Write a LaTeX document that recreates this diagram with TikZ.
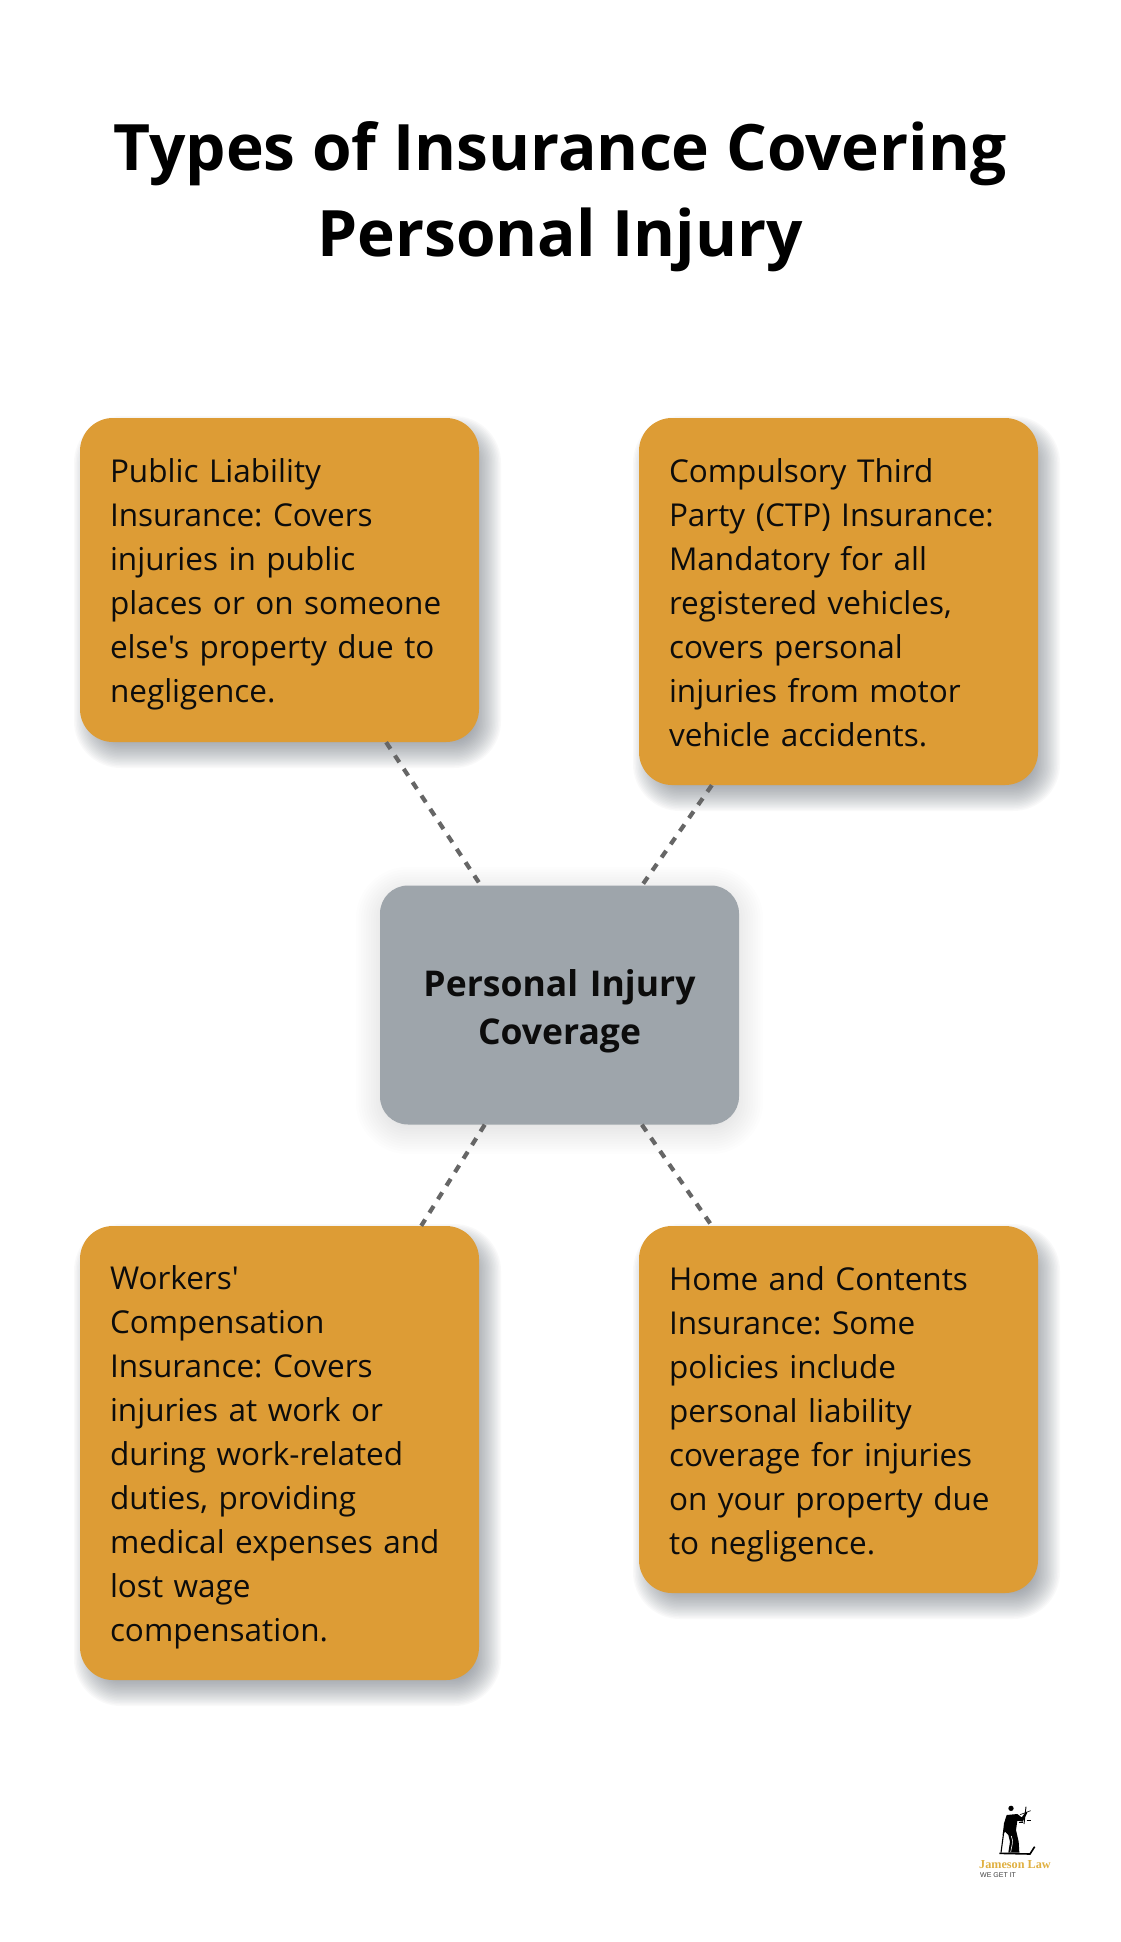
\documentclass[tikz,border=0pt]{standalone}
\usepackage{fontspec}
\setmainfont{Open Sans}[Ligatures=TeXOff]
\newfontfamily\logoserif{Liberation Serif}
\newfontfamily\logosans{Liberation Sans}
\definecolor{gold}{HTML}{DD9C35}
\definecolor{slate}{HTML}{9EA5AB}
\definecolor{inkc}{HTML}{0C0C0C}
\definecolor{dashc}{HTML}{666666}
\definecolor{shadowc}{HTML}{5E6670}
\definecolor{logogold}{HTML}{E0B040}
\frenchspacing
\newcommand{\firstline}{\rule{0pt}{39pt}}
\tikzset{
  card/.style={draw=none,fill=gold,rounded corners=33pt,text=inkc,
    minimum width=399pt,text width=339pt,inner xsep=30pt,inner ysep=0pt,align=left,
    font=\fontsize{31.5}{44}\selectfont},
  hub/.style={draw=none,fill=slate,rounded corners=28pt,text=inkc,
    minimum width=360pt,minimum height=239pt,text width=320pt,inner sep=0pt,align=center,
    font=\bfseries\fontsize{35.5}{48}\selectfont},
  link/.style={draw=dashc,line width=4.2pt,dash pattern=on 8pt off 8pt},
  titletext/.style={align=center,text=black,inner sep=0pt,
    font=\bfseries\fontsize{64}{86}\selectfont}
}
% soft shadow: x1 y1 x2 y2 radius dx dy opacity spread
\newcommand{\softshade}[9]{%
  \foreach \k in {0,...,19}{%
    \pgfmathsetmacro{\gr}{#9*(1-\k/9.5)}%
    \fill[shadowc,fill opacity=#8,rounded corners=#5pt+\gr pt]
      (#1-\gr+#6,#2-\gr+#7) rectangle (#3+\gr+#6,#4+\gr+#7);
  }%
}
\begin{document}
\begin{tikzpicture}[x=1pt,y=-1pt]
\useasboundingbox (0,0) rectangle (1120,1942);
\fill[white] (0,0) rectangle (1120,1942);

\softshade{80}{418}{479}{742}{33}{8}{12}{0.034}{14}
\softshade{639}{418}{1038}{785}{33}{8}{12}{0.034}{14}
\softshade{80}{1226}{479}{1680}{33}{8}{12}{0.034}{14}
\softshade{639}{1226}{1038}{1593}{33}{8}{12}{0.034}{14}
\softshade{380}{886}{739}{1125}{28}{0}{5}{0.01}{24}

\node[titletext] (title) at (560,196.5) {Types of Insurance Covering\\Personal Injury};

\node[card,minimum height=324pt] (pub) at (279.5,580) {\firstline Public Liability\\Insurance: Covers\\injuries in public\\places or on someone\\else's property due to\\negligence.\strut};
\node[card,minimum height=367pt] (ctp) at (838.5,601.5) {\firstline Compulsory Third\\Party (CTP) Insurance:\\Mandatory for all\\registered vehicles,\\covers personal\\injuries from motor\\vehicle accidents.\strut};
\node[card,minimum height=454pt] (work) at (279.5,1453) {\firstline Workers'\\Compensation\\Insurance: Covers\\injuries at work or\\during work-related\\duties, providing\\medical expenses and\\lost wage\\compensation.\strut};
\node[card,minimum height=367pt] (home) at (838.5,1409.5) {\firstline Home and Contents\\Insurance: Some\\policies include\\personal liability\\coverage for injuries\\on your property due\\to negligence.\strut};
\node[hub,minimum width=359pt] (core) at (559.5,1005) {\rule{0pt}{39pt}Personal Injury\\Coverage};

\draw[link] (pub) -- (core);
\draw[link] (ctp) -- (core);
\draw[link] (core) -- (work);
\draw[link] (core) -- (home);

% logo, drawn in the coordinates of the 3x crop
\begin{scope}[shift={(940,1780)},x=0.3333pt,y=-0.3333pt]
\fill[black] (213,85) circle (8);
\fill[black] (200,105) -- (232,102) -- (245,112) -- (258,95) -- (262,98) -- (248,125) -- (232,122)
  -- (228,150) -- (236,185) -- (238,218) -- (205,218) -- (210,185) -- (205,165) -- (195,155)
  -- (188,165) -- (192,130) -- cycle;
\draw[white,line width=0.6pt] (214,168) .. controls (222,185) and (214,200) .. (212,216);
\draw[black,line width=0.9pt] (258,80) -- (252,132);
\draw[black,line width=0.6pt] (240,104) -- (272,92);
\draw[black,line width=1pt] (236,127) -- (250,127);
\draw[black,line width=1pt] (260,122) -- (274,122);
\draw[black,line width=1.1pt] (192,150) -- (183,218);
\draw[black,line width=1.6pt] (178,220) -- (270,222) -- (284,200);
\end{scope}
\node[inner sep=0pt,anchor=base west,text=logogold,font=\logoserif\bfseries\fontsize{12.2}{14}\selectfont] (logoname) at (979,1868) {Jameson Law};
\node[inner sep=0pt,anchor=base west,text=black!75,font=\logosans\fontsize{7}{8}\selectfont] (logotag) at (980,1877) {WE GET IT};
\end{tikzpicture}
\end{document}
